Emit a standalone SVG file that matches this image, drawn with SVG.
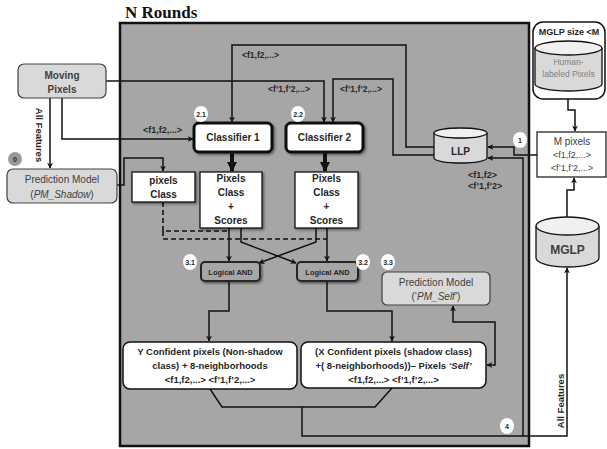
<svg xmlns="http://www.w3.org/2000/svg" width="607" height="449" viewBox="0 0 607 449">
<style>
text{font-family:"Liberation Sans",Arial,sans-serif;fill:#262626}
.b{font-weight:bold}
.c{text-anchor:middle}
.lbl{font-weight:bold;font-size:8.5px;fill:#262626}
.ln{fill:none;stroke:#111;stroke-width:1.5}
.dash{fill:none;stroke:#111;stroke-width:1.6;stroke-dasharray:5 3}
.box{fill:#fff;stroke:#111;stroke-width:1.3}
.lg{fill:#d9d9d9;stroke:#404040;stroke-width:1.2}
.badge{fill:#fff;stroke:none}
.bt{font-size:7px;font-weight:bold;text-anchor:middle;fill:#262626}
.cyl{fill:#d9d9d9;stroke:#111;stroke-width:1.3}
.cyltop{fill:#f0f0f0;stroke:#111;stroke-width:1.3}
</style>
<defs>
<marker id="ah" viewBox="0 0 10 10" refX="9" refY="5" markerWidth="6" markerHeight="6" orient="auto-start-reverse" markerUnits="userSpaceOnUse">
<path d="M0,0 L10,5 L0,10 L3,5 z" fill="#111"/>
</marker>
<marker id="ahb" viewBox="0 0 10 10" refX="9" refY="5" markerWidth="10" markerHeight="10" orient="auto" markerUnits="userSpaceOnUse">
<path d="M0,0 L10,5 L0,10 z" fill="#111"/>
</marker>
<filter id="sh" x="-10%" y="-10%" width="130%" height="140%">
<feDropShadow dx="1.5" dy="1.5" stdDeviation="1" flood-color="#000" flood-opacity="0.45"/>
</filter>
</defs>

<text x="125" y="18" style="font-family:'Liberation Serif',serif;font-weight:bold;font-size:17px;fill:#111">N Rounds</text>

<g id="rounds">
<rect x="120" y="23" width="409" height="423" fill="#a6a6a6" stroke="#111" stroke-width="2.5"/>
</g>

<g id="connectors">
<!-- Moving pixels to classifiers -->
<path class="ln" d="M106,81 H324 V122" marker-end="url(#ah)"/>
<path class="ln" d="M62,98 V139 H193" marker-end="url(#ah)"/>
<path class="ln" d="M50,98 V168" marker-end="url(#ah)"/>
<!-- LLP to classifiers -->
<path class="ln" d="M434,147 H406 V45 H232 V122" marker-end="url(#ah)"/>
<path class="ln" d="M434,155 H393 V79 H333 V122" marker-end="url(#ah)"/>
<!-- PM_Shadow to pixels Class -->
<path class="ln" d="M117,185 H124 V158 H163 V171" marker-end="url(#ah)"/>
<!-- classifiers thick -->
<path d="M232,152 V171" stroke="#111" stroke-width="4" fill="none" marker-end="url(#ahb)"/>
<path d="M325,152 V171" stroke="#111" stroke-width="4" fill="none" marker-end="url(#ahb)"/>
<!-- dashed -->
<path class="dash" d="M163,202 V231 H229"/>
<path class="dash" d="M163,231 V239 H327"/>
<!-- into Logical AND -->
<path class="ln" d="M229,228 V261" marker-end="url(#ah)"/>
<path class="ln" d="M327,228 V261" marker-end="url(#ah)"/>
<path class="ln" d="M241,228 V242 L296,263" marker-end="url(#ah)"/>
<path class="ln" d="M316,228 V242 L259,263" marker-end="url(#ah)"/>
<!-- AND to Y/X -->
<path class="ln" d="M229,281 V311 H209 V341" marker-end="url(#ah)"/>
<path class="ln" d="M327,281 V311 H392 V341" marker-end="url(#ah)"/>
<!-- PM_Self <-> X -->
<path class="ln" d="M453,306 V322 H495 V365 H487" marker-start="url(#ah)" marker-end="url(#ah)"/>
<!-- merge bottom -->
<path class="ln" d="M210,389 L222,407 H375 L392,388"/>
<path class="ln" d="M302,407 V436 H523 V158 H488" marker-end="url(#ah)"/>
<path class="ln" d="M523,436 H567 V268" marker-end="url(#ah)"/>
<!-- M pixels to LLP -->
<path class="ln" d="M537,155 H514 V147 H488" marker-end="url(#ah)"/>
<!-- Human labeled to M pixels -->
<path class="ln" d="M568,91 V110 H575 V131" marker-end="url(#ah)"/>
<!-- MGLP to M pixels -->
<path class="ln" d="M567,217 V190 H574 V178" marker-end="url(#ah)"/>
<!-- labels -->
<text class="lbl" x="242" y="58">&lt;f1,f2,...&gt;</text>
<text class="lbl" x="268" y="92">&lt;f’1,f’2,...&gt;</text>
<text class="lbl" x="340" y="92">&lt;f’1,f’2,...&gt;</text>
<text class="lbl" x="143" y="133" style="font-size:9px">&lt;f1,f2,...&gt;</text>
<text class="lbl" x="468" y="178" style="font-size:9px">&lt;f1,f2&gt;</text>
<text class="lbl" x="468" y="189" style="font-size:9px">&lt;f’1,f’2&gt;</text>
<text class="b c" transform="translate(36,135) rotate(90)" style="font-size:9.5px">All Features</text>
<text class="b c" transform="translate(564,401) rotate(-90)" style="font-size:9.5px">All Features</text>
</g>

<g id="moving-pixels">
<rect x="18" y="64" width="88" height="34" rx="6" class="lg"/>
<text class="b c" x="62" y="79" style="font-size:10px;fill:#404040">Moving</text>
<text class="b c" x="62" y="93" style="font-size:10px;fill:#404040">Pixels</text>
</g>

<g id="pm-shadow">
<rect x="7" y="169" width="110" height="34" rx="6" class="lg"/>
<text class="c" x="62" y="183" style="font-size:10px;fill:#404040">Prediction Model</text>
<text class="c" x="62" y="198" style="font-size:10px;fill:#404040">(<tspan font-style="italic">PM_Shadow</tspan>)</text>
</g>
<g id="badge-0">
<circle cx="15" cy="159" r="7" fill="#9a9a9a"/>
<text class="bt" x="15" y="161.5">0</text>
</g>

<g id="classifier-1">
<rect x="194" y="123" width="78" height="29" rx="5" fill="#fff" stroke="#111" stroke-width="3" filter="url(#sh)"/>
<text class="b c" x="233" y="141" style="font-size:10px">Classifier 1</text>
</g>
<g id="classifier-2">
<rect x="286" y="123" width="77" height="29" rx="5" fill="#fff" stroke="#111" stroke-width="3" filter="url(#sh)"/>
<text class="b c" x="324.5" y="141" style="font-size:10px">Classifier 2</text>
</g>
<g id="badge-2-1"><ellipse cx="201" cy="114" rx="7" ry="8" class="badge"/><text class="bt" x="201" y="116.5">2.1</text></g>
<g id="badge-2-2"><ellipse cx="298" cy="114" rx="7" ry="8" class="badge"/><text class="bt" x="298" y="116.5">2.2</text></g>

<g id="pixels-class">
<rect x="132" y="172" width="63" height="30" class="box" filter="url(#sh)"/>
<text class="b c" x="163.5" y="184" style="font-size:10px">pixels</text>
<text class="b c" x="163.5" y="198" style="font-size:10px">Class</text>
</g>
<g id="scores-1">
<rect x="200" y="172" width="62" height="56" class="box" filter="url(#sh)"/>
<text class="b c" x="231" y="182" style="font-size:10px">Pixels</text>
<text class="b c" x="231" y="196" style="font-size:10px">Class</text>
<text class="b c" x="231" y="210" style="font-size:10px">+</text>
<text class="b c" x="231" y="224" style="font-size:10px">Scores</text>
</g>
<g id="scores-2">
<rect x="295" y="172" width="63" height="56" class="box" filter="url(#sh)"/>
<text class="b c" x="326.5" y="182" style="font-size:10px">Pixels</text>
<text class="b c" x="326.5" y="196" style="font-size:10px">Class</text>
<text class="b c" x="326.5" y="210" style="font-size:10px">+</text>
<text class="b c" x="326.5" y="224" style="font-size:10px">Scores</text>
</g>

<g id="and-1">
<rect x="201" y="262" width="59" height="19" rx="4" fill="#a6a6a6" stroke="#262626" stroke-width="2" filter="url(#sh)"/>
<text class="b c" x="230.5" y="274.5" style="font-size:7.5px">Logical AND</text>
</g>
<g id="and-2">
<rect x="297" y="262" width="61" height="19" rx="4" fill="#a6a6a6" stroke="#262626" stroke-width="2" filter="url(#sh)"/>
<text class="b c" x="327.5" y="274.5" style="font-size:7.5px">Logical AND</text>
</g>
<g id="badge-3-1"><ellipse cx="190" cy="262" rx="7" ry="8" class="badge"/><text class="bt" x="190" y="264.5">3.1</text></g>
<g id="badge-3-2"><ellipse cx="363" cy="262" rx="7" ry="8" class="badge"/><text class="bt" x="363" y="264.5">3.2</text></g>
<g id="badge-3-3"><ellipse cx="388" cy="262" rx="7" ry="8" class="badge"/><text class="bt" x="388" y="264.5">3.3</text></g>

<g id="pm-self">
<rect x="382" y="272" width="108" height="33" rx="5" class="lg"/>
<text class="c" x="436" y="286" style="font-size:10px;fill:#404040">Prediction Model</text>
<text class="c" x="436" y="300" style="font-size:10px;fill:#404040">(‘<tspan font-style="italic">PM_Self</tspan>’)</text>
</g>

<g id="y-confident">
<rect x="123" y="342" width="174" height="47" rx="7" fill="#fff" stroke="#111" stroke-width="1.5"/>
<text class="b c" x="210" y="355" style="font-size:9.5px">Y Confident pixels (Non-shadow</text>
<text class="b c" x="210" y="369" style="font-size:9.5px">class) + 8-neighborhoods</text>
<text class="b c" x="210" y="383" style="font-size:9.5px">&lt;f1,f2,...&gt; &lt;f’1,f’2,...&gt;</text>
</g>
<g id="x-confident">
<rect x="301" y="342" width="185" height="46" rx="7" fill="#fff" stroke="#111" stroke-width="1.5"/>
<text class="b c" x="393.5" y="355" style="font-size:9.5px">(X Confident pixels (shadow class)</text>
<text class="b c" x="393.5" y="369" style="font-size:9.5px">+( 8-neighborhoods))– Pixels <tspan font-style="italic">‘Self’</tspan></text>
<text class="b c" x="393.5" y="383" style="font-size:9.5px">&lt;f1,f2,...&gt; &lt;f’1,f’2,...&gt;</text>
</g>
<g id="badge-4"><ellipse cx="507" cy="426" rx="7" ry="8" class="badge"/><text class="bt" x="507" y="428.5">4</text></g>

<g id="llp">
<path d="M434,133 V158 A26.5,5 0 0 0 487,158 V133" class="cyl"/>
<ellipse cx="460.5" cy="133" rx="26.5" ry="5" class="cyltop"/>
<text class="b c" x="460.5" y="155" style="font-size:10px">LLP</text>
</g>
<g id="badge-1"><ellipse cx="520" cy="140" rx="7" ry="8" class="badge"/><text class="bt" x="520" y="142.5">1</text></g>

<g id="mglp-size">
<rect x="533" y="22" width="72" height="77" rx="10" fill="#fff" stroke="#111" stroke-width="1.5"/>
<text class="b c" x="569" y="35" style="font-size:9px">MGLP size &lt;M</text>
<path d="M535,48 V84 A33.5,7 0 0 0 602,84 V48" class="cyl"/>
<ellipse cx="568.5" cy="48" rx="33.5" ry="7" class="cyltop"/>
<text class="c" x="568.5" y="65" style="font-size:8.5px;fill:#7f7f7f">Human-</text>
<text class="c" x="568.5" y="77" style="font-size:8.5px;fill:#7f7f7f">labeled Pixels</text>
</g>

<g id="m-pixels">
<rect x="537" y="132" width="69" height="45" fill="#fff" stroke="#111" stroke-width="1.2"/>
<text class="c" x="572" y="145" style="font-size:10px;fill:#404040">M pixels</text>
<text class="c" x="572" y="158" style="font-size:9px;fill:#404040">&lt;f1,f2,...&gt;</text>
<text class="c" x="572" y="171" style="font-size:9px;fill:#404040">&lt;f’1,f’2,...&gt;</text>
</g>

<g id="mglp">
<path d="M536,226 V258 A31.5,9 0 0 0 599,258 V226" class="cyl"/>
<ellipse cx="567.5" cy="226" rx="31.5" ry="9" class="cyltop"/>
<text class="b c" x="567.5" y="254" style="font-size:12px;fill:#404040">MGLP</text>
</g>
</svg>
